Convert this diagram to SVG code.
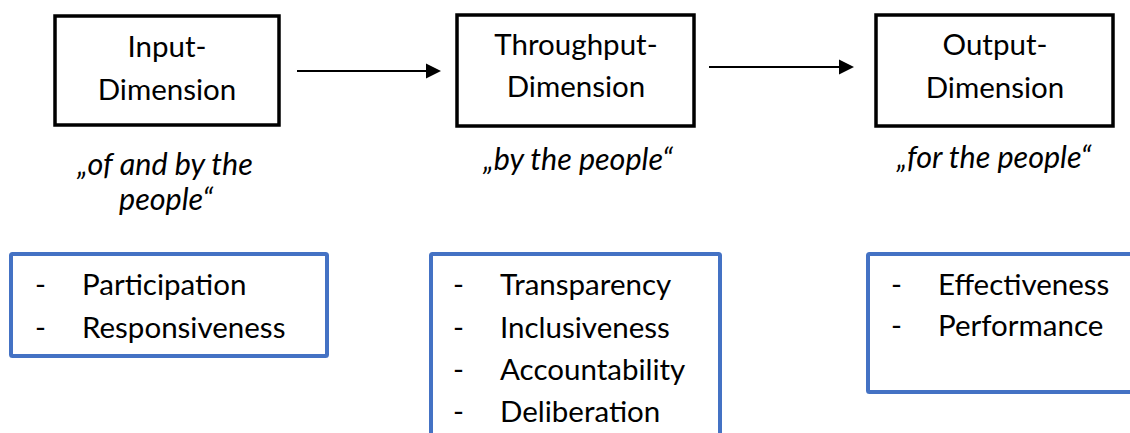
<svg xmlns="http://www.w3.org/2000/svg" width="1130" height="433" viewBox="0 0 1130 433">
<defs>
<style>
.t{font-family:Lato,"Liberation Sans",sans-serif;font-size:29.5px;fill:#000}
.c{text-anchor:middle}
.i{font-style:italic;font-size:30.5px}
.box{fill:#fff;stroke:#000;stroke-width:3.5}
.blue{fill:#fff;stroke:#4472C4;stroke-width:4}
.conn{stroke:#000;stroke-width:2;fill:none}
.head{fill:#000}
</style>
</defs>
<rect width="1130" height="433" fill="#fff"/>
<g id="connectors">
<line class="conn" x1="297" y1="71" x2="428" y2="71"/>
<path class="head" d="M426,63.5 L441,71 L426,78.5 z"/>
<line class="conn" x1="709" y1="67" x2="841" y2="67"/>
<path class="head" d="M839,59.5 L854,67 L839,74.5 z"/>
</g>
<g id="input">
<rect class="box" x="55" y="16" width="224" height="109"/>
<text class="t c" x="167" y="57">Input-</text>
<text class="t c" x="167" y="100">Dimension</text>
<text class="t c i" x="165" y="175">„of and by the</text>
<text class="t c i" x="166" y="210">people“</text>
</g>
<g id="throughput">
<rect class="box" x="457" y="15" width="237" height="111"/>
<text class="t c" x="576" y="55">Throughput-</text>
<text class="t c" x="576" y="97">Dimension</text>
<text class="t c i" x="578" y="170">„by the people“</text>
</g>
<g id="output">
<rect class="box" x="876" y="15" width="237" height="111"/>
<text class="t c" x="995" y="55">Output-</text>
<text class="t c" x="995" y="98">Dimension</text>
<text class="t c i" x="994" y="168">„for the people“</text>
</g>
<g id="input-list">
<rect class="blue" x="11" y="254" width="316" height="102" rx="1.5"/>
<text class="t" x="35" y="295">-</text>
<text class="t" x="82" y="295">Participation</text>
<text class="t" x="35" y="338">-</text>
<text class="t" x="82" y="338">Responsiveness</text>
</g>
<g id="throughput-list">
<rect class="blue" x="431" y="254" width="289" height="200" rx="1.5"/>
<text class="t" x="453" y="295">-</text>
<text class="t" x="500" y="295">Transparency</text>
<text class="t" x="453" y="338">-</text>
<text class="t" x="500" y="338">Inclusiveness</text>
<text class="t" x="453" y="380">-</text>
<text class="t" x="500" y="380">Accountability</text>
<text class="t" x="453" y="422">-</text>
<text class="t" x="500" y="422">Deliberation</text>
</g>
<g id="output-list">
<rect class="blue" x="868" y="254" width="280" height="138" rx="1.5"/>
<text class="t" x="891" y="295">-</text>
<text class="t" x="938" y="295">Effectiveness</text>
<text class="t" x="891" y="336">-</text>
<text class="t" x="938" y="336">Performance</text>
</g>
</svg>
